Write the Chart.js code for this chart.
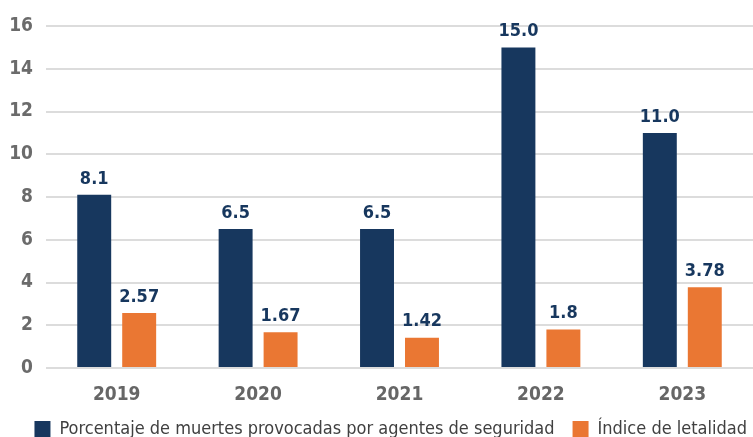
<!DOCTYPE html>
<html>
<head>
<meta charset="utf-8">
<script src="https://cdn.jsdelivr.net/npm/chart.js@4"></script>
<style>
  html, body { margin: 0; padding: 0; background: #fff; }
  #wrap { width: 753px; height: 437px; position: relative; }
</style>
</head>
<body>
<div id="wrap"><canvas id="chart"></canvas></div>
<script>
// ====== data ======
const years = ["2019", "2020", "2021", "2022", "2023"];
const muertesAgentes = [8.1, 6.5, 6.5, 15.0, 11.0];
const indiceLetalidad = [2.57, 1.67, 1.42, 1.8, 3.78];

const NAVY = "#17375E";
const ORANGE = "#EA7733";
const FONT = "'DejaVu Sans Condensed', 'DejaVu Sans', sans-serif";

// draws the value above each bar
const barValueLabels = {
    id: "barValueLabels",
    afterDatasetsDraw(chart) {
        const ctx = chart.ctx;
        ctx.save();
        ctx.font = "bold 18px " + FONT;
        ctx.fillStyle = NAVY;
        ctx.textAlign = "center";
        ctx.textBaseline = "bottom";
        chart.data.datasets.forEach((ds, di) => {
            const meta = chart.getDatasetMeta(di);
            meta.data.forEach((bar, i) => {
                const v = ds.data[i];
                const txt = di === 0 ? v.toFixed(1) : String(v);
                ctx.fillText(txt, bar.x, bar.y - 7);
            });
        });
        ctx.restore();
    }
};

// keep the legend short so the plot reaches down like the original,
// and nudge it to the right a bit
const legendTweak = {
    id: "legendTweak",
    beforeInit(chart) {
        const origFit = chart.legend.fit;
        chart.legend.fit = function () {
            origFit.bind(chart.legend)();
            this.height = 35;
        };
    },
    afterLayout(chart) {
        chart.legend.right += 12;
    }
};

document.addEventListener("DOMContentLoaded", () => {
    const ctx = document.getElementById("chart");

    new Chart(ctx, {
        type: "bar",
        data: {
            labels: years,
            datasets: [
                {
                    label: "Porcentaje de muertes provocadas por agentes de seguridad",
                    data: muertesAgentes,
                    backgroundColor: NAVY
                },
                {
                    label: "Índice de letalidad",
                    data: indiceLetalidad,
                    backgroundColor: ORANGE
                }
            ]
        },
        options: {
            responsive: true,
            maintainAspectRatio: false,
            animation: false,
            datasets: {
                bar: { categoryPercentage: 0.636, barPercentage: 0.755 }
            },
            layout: { padding: { top: 26, left: 0, right: 0, bottom: 0 } },
            plugins: {
                tooltip: { enabled: false },
                legend: {
                    position: "bottom",
                    align: "end",
                    labels: {
                        boxWidth: 16,
                        boxHeight: 16,
                        padding: 18,
                        color: "#404040",
                        font: { family: FONT, size: 18 }
                    }
                }
            },
            scales: {
                x: {
                    grid: { display: false },
                    border: { display: false },
                    ticks: {
                        color: "#666666",
                        padding: 8,
                        font: { family: FONT, size: 19, weight: "bold" }
                    },
                    afterFit: (scale) => { scale.height = 34; }
                },
                y: {
                    min: 0,
                    max: 16,
                    border: { display: false },
                    grid: { color: "#dcdcdc", lineWidth: 2, drawTicks: false },
                    ticks: {
                        stepSize: 2,
                        color: "#6b6b6b",
                        padding: 13,
                        font: { family: FONT, size: 19, weight: "bold" }
                    },
                    afterFit: (scale) => { scale.width = 46; }
                }
            }
        },
        plugins: [barValueLabels, legendTweak]
    });
});
</script>
</body>
</html>
